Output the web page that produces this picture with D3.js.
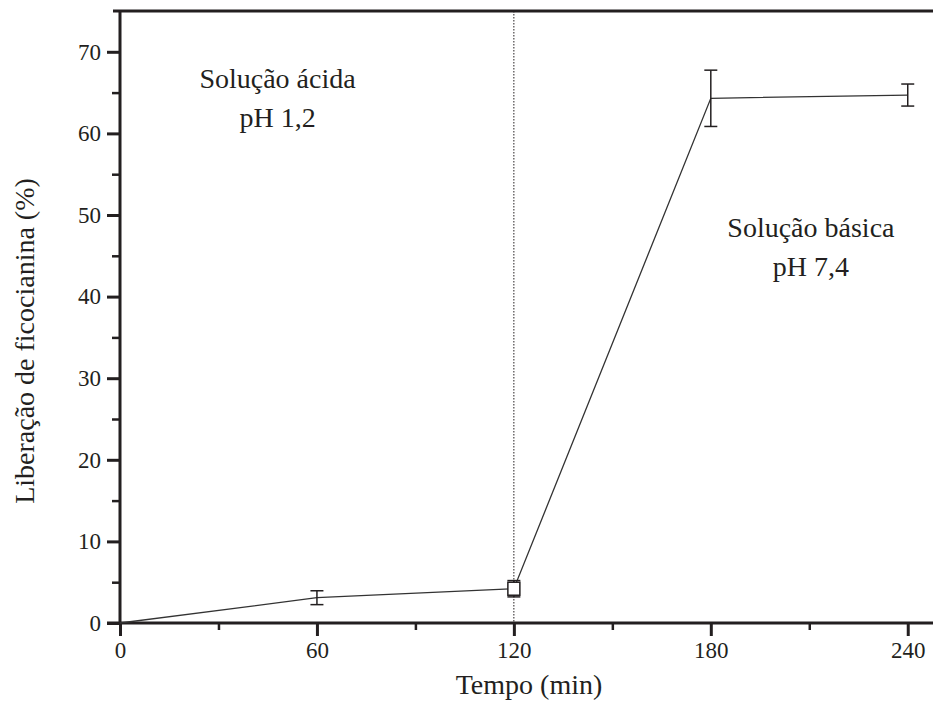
<!DOCTYPE html>
<html>
<head>
<meta charset="utf-8">
<script src="https://cdn.jsdelivr.net/npm/d3@7"></script>
<style>
  body { margin: 0; background: #fff; }
  svg { display: block; font-family: "Liberation Serif", "Times New Roman", serif; }
</style>
</head>
<body>
<svg id="chart" width="933" height="713"></svg>
<script>
// data
const tempo = [0, 60, 120, 180, 240];
const liberacao = [0, 3.1, 4.2, 64.3, 64.7];
const erro = [0, 0.85, 1.0, 3.45, 1.35];
const xTicks = [0, 60, 120, 180, 240];
const xMinor = [30, 90, 150, 210];
const yTicks = [0, 10, 20, 30, 40, 50, 60, 70];
const yMinor = [5, 15, 25, 35, 45, 55, 65];
const fase = 120; // change of medium

const svg = d3.select("#chart");
const ink = "#231f20";

const x = d3.scaleLinear().domain([0, 248]).range([120, 934]);
const y = d3.scaleLinear().domain([0, 75]).range([623, 11]);

// minor ticks first
svg.append("g")
  .attr("transform", `translate(0,${y(0)})`)
  .call(d3.axisBottom(x).tickValues(xMinor).tickSize(7).tickFormat(""))
  .call(g => g.select(".domain").remove())
  .selectAll("line").attr("stroke", ink).attr("stroke-width", 2.5);

svg.append("g")
  .attr("transform", `translate(${x(0)},0)`)
  .call(d3.axisLeft(y).tickValues(yMinor).tickSize(8).tickFormat(""))
  .call(g => g.select(".domain").remove())
  .selectAll("line").attr("stroke", ink).attr("stroke-width", 2.5);

// major axes
const xAxis = svg.append("g")
  .attr("transform", `translate(0,${y(0)})`)
  .call(d3.axisBottom(x).tickValues(xTicks).tickSize(13).tickPadding(6).tickSizeOuter(0));
xAxis.select(".domain").attr("stroke", ink).attr("stroke-width", 3)
  .attr("d", `M107,0H934`);
xAxis.selectAll("line").attr("stroke", ink).attr("stroke-width", 3);
xAxis.selectAll("text").attr("fill", ink).style("font-size", "23px")
  .style("font-family", "Liberation Serif");

const yAxis = svg.append("g")
  .attr("transform", `translate(${x(0)},0)`)
  .call(d3.axisLeft(y).tickValues(yTicks).tickSize(13).tickPadding(6).tickSizeOuter(0));
yAxis.select(".domain").attr("stroke", ink).attr("stroke-width", 3)
  .attr("d", `M0,${y(75)}V${y(0) + 1}`);
yAxis.selectAll("line").attr("stroke", ink).attr("stroke-width", 3);
yAxis.selectAll("text").attr("fill", ink).style("font-size", "23px")
  .style("font-family", "Liberation Serif");

// top frame line
svg.append("line")
  .attr("x1", 113).attr("x2", 934)
  .attr("y1", y(75)).attr("y2", y(75))
  .attr("stroke", ink).attr("stroke-width", 3);

// dotted line marking the change of pH
svg.append("line")
  .attr("x1", x(fase)).attr("x2", x(fase))
  .attr("y1", y(75)).attr("y2", y(0))
  .attr("stroke", ink).attr("stroke-width", 1)
  .attr("stroke-dasharray", "1.5,1.5");

const pts = tempo.map((t, i) => ({ t, v: liberacao[i], e: erro[i] }));

// line
svg.append("path")
  .datum(pts)
  .attr("fill", "none")
  .attr("stroke", "#333")
  .attr("stroke-width", 1.3)
  .attr("d", d3.line().x(d => x(d.t)).y(d => y(d.v)));

// error bars
const eb = svg.append("g").attr("stroke", ink).attr("stroke-width", 1.5);
pts.filter(d => d.e > 0).forEach(d => {
  const cx = x(d.t);
  eb.append("line").attr("x1", cx).attr("x2", cx)
    .attr("y1", y(d.v + d.e)).attr("y2", y(d.v - d.e));
  [d.v + d.e, d.v - d.e].forEach(v => {
    eb.append("line").attr("x1", cx - 6.5).attr("x2", cx + 6.5)
      .attr("y1", y(v)).attr("y2", y(v));
  });
});

// open square marker at 120 min
const p120 = pts.find(d => d.t === fase);
svg.append("rect")
  .attr("x", x(p120.t) - 6).attr("y", y(p120.v) - 6.5)
  .attr("width", 12).attr("height", 13)
  .attr("fill", "#fff").attr("stroke", ink).attr("stroke-width", 1.5);

// annotations
const notes = [
  { lines: ["Solução ácida", "pH 1,2"], t: 48, v: 65.6 },
  { lines: ["Solução básica", "pH 7,4"], t: 210.5, v: 47.3 }
];
notes.forEach(n => {
  const txt = svg.append("text")
    .attr("x", x(n.t)).attr("y", y(n.v))
    .attr("text-anchor", "middle")
    .attr("fill", ink)
    .style("font-size", "28px");
  n.lines.forEach((l, i) => {
    txt.append("tspan").attr("x", x(n.t)).attr("dy", i ? 39 : 0).text(l);
  });
});

// axis titles
svg.append("text")
  .attr("x", 529).attr("y", 694)
  .attr("text-anchor", "middle").attr("fill", ink)
  .style("font-size", "28px")
  .text("Tempo (min)");

svg.append("text")
  .attr("transform", "translate(34,341) rotate(-90)")
  .attr("text-anchor", "middle").attr("fill", ink)
  .style("font-size", "28px")
  .text("Liberação de ficocianina (%)");
</script>
</body>
</html>
